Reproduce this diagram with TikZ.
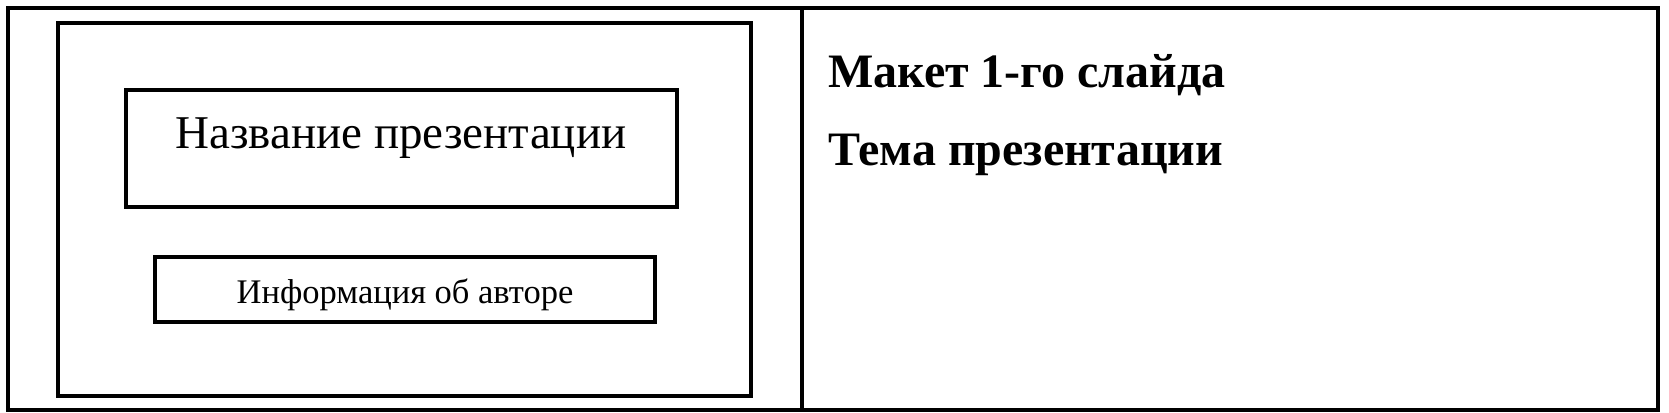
\documentclass[tikz,border=0pt]{standalone}
\usepackage{fontspec}
\setmainfont{Liberation Serif}
\begin{document}
\begin{tikzpicture}[x=1pt,y=-1pt,
  frame/.style={draw=black, line width=4pt, inner sep=0pt, outer sep=0pt},
  boxlabel/.style={inner sep=0pt, anchor=base},
  headlabel/.style={inner sep=0pt, anchor=base west, font=\fontsize{48}{56}\selectfont\bfseries}
]
\useasboundingbox (0,0) rectangle (1669,412);
% outer frame and divider
\node[frame, minimum width=1650.3pt, minimum height=402pt] (outer) at (832.85,209) {};
\coordinate (divtop) at (802,8);
\coordinate (divbot) at (802,410);
\draw[line width=4pt] (divtop) -- (divbot);
% slide frame
\node[frame, minimum width=692.7pt, minimum height=373.3pt] (slide) at (404.35,209.35) {};
% title box
\node[frame, minimum width=551.5pt, minimum height=117pt] (titlebox) at (401.25,148.5) {};
\node[boxlabel, font=\fontsize{47}{56}\selectfont] (title) at (401,148) {Название презентации};
% author box
\node[frame, minimum width=500pt, minimum height=64.5pt] (authorbox) at (405,289.25) {};
\node[boxlabel, font=\fontsize{34.5}{40}\selectfont] (author) at (405,303) {Информация об авторе};
% right side texts
\node[headlabel] (layout) at (828,87) {Макет 1-го слайда};
\node[headlabel] (topic) at (828,165) {Тема презентации};
\end{tikzpicture}
\end{document}
